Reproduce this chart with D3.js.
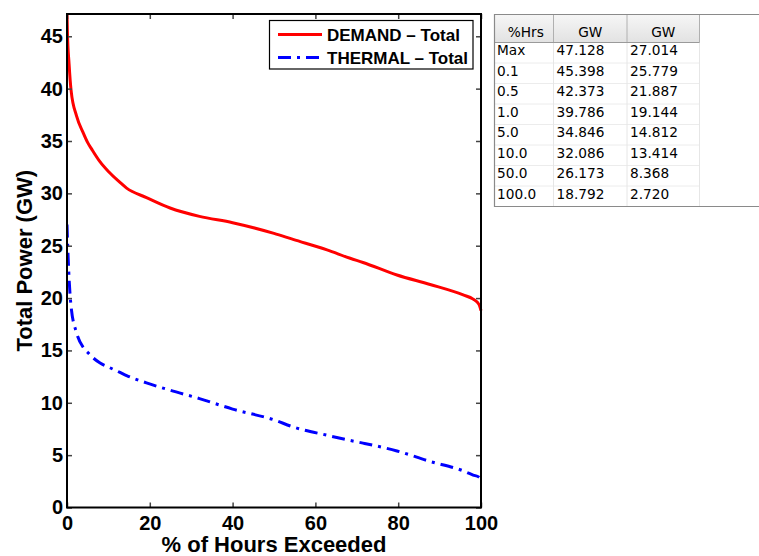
<!DOCTYPE html>
<html>
<head>
<meta charset="utf-8">
<script src="https://cdn.jsdelivr.net/npm/d3@7"></script>
<style>
  html, body { margin: 0; padding: 0; background: #fff; }
  svg { display: block; }
</style>
</head>
<body>
<svg id="chart" width="759" height="556"></svg>
<script>
// Duration curve: share of hours (%) for which a power level is exceeded
const hoursPct = [0, 0.1, 0.5, 1, 2.3, 3.9, 5, 6, 8, 10, 12.8, 14.4, 19.2, 24.9, 32, 40,
                  50, 54.6, 62.8, 68.4, 71.5, 79.7, 87.7, 95.7, 98.1, 99.5, 100];
const demandGW = [47.128, 45.398, 42.373, 39.786, 37.4, 35.8, 34.846, 34.2, 33.0, 32.086,
                  31.05, 30.5, 29.6, 28.6, 27.8, 27.2, 26.173, 25.6, 24.6, 23.8, 23.4,
                  22.2, 21.3, 20.3, 19.9, 19.4, 18.792];
const thermalGW = [27.014, 25.779, 21.887, 19.144, 16.7, 15.3, 14.812, 14.4, 13.8, 13.414,
                   12.9, 12.6, 11.9, 11.2, 10.4, 9.4, 8.368, 7.7, 6.9, 6.4, 6.15,
                   5.4, 4.4, 3.5, 3.1, 2.9, 2.72];

const seriesNames = ["DEMAND \u2013 Total", "THERMAL \u2013 Total"];
const xTicks = [0, 20, 40, 60, 80, 100];
const yTicks = [0, 5, 10, 15, 20, 25, 30, 35, 40, 45];

// Summary table
const tableHeader = ["%Hrs", "GW", "GW"];
const tablePct = ["Max", "0.1", "0.5", "1.0", "5.0", "10.0", "50.0", "100.0"];
const tableDemand = ["47.128", "45.398", "42.373", "39.786", "34.846", "32.086", "26.173", "18.792"];
const tableThermal = ["27.014", "25.779", "21.887", "19.144", "14.812", "13.414", "8.368", "2.720"];

const svg = d3.select("#chart");
const plotLeft = 67, plotRight = 481, plotTop = 14, plotBottom = 507.5;

const x = d3.scaleLinear().domain([0, 100]).range([plotLeft, plotRight]);
const y = d3.scaleLinear().domain([0, 47.128]).range([plotBottom, plotTop]);

const FONT = "'Liberation Sans', Arial, Helvetica, sans-serif";

const defs = svg.append("defs");
defs.append("clipPath").attr("id", "plotClip")
  .append("rect").attr("x", plotLeft).attr("y", plotTop - 2)
  .attr("width", plotRight - plotLeft + 2).attr("height", plotBottom - plotTop + 2);

// Lines
const line = d3.line().x(d => x(d[0])).y(d => y(d[1])).curve(d3.curveMonotoneX);
const plot = svg.append("g").attr("clip-path", "url(#plotClip)");

plot.append("path")
  .datum(hoursPct.map((p, i) => [p, demandGW[i]]))
  .attr("d", line).attr("fill", "none")
  .attr("stroke", "#ff0000").attr("stroke-width", 3)
  .attr("stroke-linejoin", "round");

plot.append("path")
  .datum(hoursPct.map((p, i) => [p, thermalGW[i]]))
  .attr("d", line).attr("fill", "none")
  .attr("stroke", "#0000ff").attr("stroke-width", 3)
  .attr("stroke-dasharray", "13,6,3,6");

// Axes, MATLAB style: ticks pointing inward on all four sides
function styleAxis(g, showLabels) {
  g.select(".domain").remove();
  g.selectAll(".tick line").attr("stroke", "#444").attr("stroke-width", 1.5);
  g.selectAll(".tick text")
    .attr("font-family", FONT).attr("font-weight", "bold")
    .attr("font-size", 20).attr("fill", "#000")
    .style("display", showLabels ? null : "none");
}

svg.append("g").attr("transform", `translate(0,${plotBottom})`)
  .call(d3.axisBottom(x).tickValues(xTicks).tickSize(-5).tickPadding(8).tickFormat(d3.format("d")))
  .call(g => styleAxis(g, true));

svg.append("g").attr("transform", `translate(0,${plotTop})`)
  .call(d3.axisTop(x).tickValues(xTicks).tickSize(-5))
  .call(g => styleAxis(g, false));

svg.append("g").attr("transform", `translate(${plotLeft},0)`)
  .call(d3.axisLeft(y).tickValues(yTicks).tickSize(-5).tickPadding(4).tickFormat(d3.format("d")))
  .call(g => styleAxis(g, true));

svg.append("g").attr("transform", `translate(${plotRight},0)`)
  .call(d3.axisRight(y).tickValues(yTicks).tickSize(-5))
  .call(g => styleAxis(g, false));

// Frame
svg.append("rect")
  .attr("x", plotLeft).attr("y", plotTop)
  .attr("width", plotRight - plotLeft).attr("height", plotBottom - plotTop)
  .attr("fill", "none").attr("stroke", "#000").attr("stroke-width", 2);

// Axis titles
svg.append("text")
  .attr("x", (plotLeft + plotRight) / 2).attr("y", 552)
  .attr("text-anchor", "middle")
  .attr("font-family", FONT).attr("font-weight", "bold").attr("font-size", 22)
  .text("% of Hours Exceeded");

svg.append("text")
  .attr("transform", `translate(32,${(plotTop + plotBottom) / 2}) rotate(-90)`)
  .attr("text-anchor", "middle")
  .attr("font-family", FONT).attr("font-weight", "bold").attr("font-size", 22)
  .text("Total Power (GW)");

// Legend
const legend = svg.append("g");
legend.append("rect")
  .attr("x", 269.5).attr("y", 20.5).attr("width", 203.5).attr("height", 48.5)
  .attr("fill", "#fff").attr("stroke", "#000").attr("stroke-width", 1.2);

const legendRows = [
  { name: seriesNames[0], color: "#ff0000", dash: null, y: 34.5 },
  { name: seriesNames[1], color: "#0000ff", dash: "13,6,3,6", y: 57.5 }
];
legendRows.forEach(r => {
  legend.append("line")
    .attr("x1", 278).attr("x2", 322).attr("y1", r.y).attr("y2", r.y)
    .attr("stroke", r.color).attr("stroke-width", 3)
    .attr("stroke-dasharray", r.dash);
  legend.append("text")
    .attr("x", 327).attr("y", r.y + 6)
    .attr("font-family", FONT).attr("font-weight", "bold").attr("font-size", 17)
    .text(r.name);
});

// Summary table
const TFONT = "'DejaVu Sans', Verdana, sans-serif";
const tbl = svg.append("g");
const tx0 = 494, ty0 = 14.5, headH = 28, rowH = 20.5;
const colX = [494, 553.5, 627, 699.5];

tbl.append("rect").attr("x", tx0).attr("y", ty0).attr("width", 270).attr("height", 192)
  .attr("fill", "#fff");

const grad = defs.append("linearGradient")
  .attr("id", "headGrad").attr("x1", 0).attr("x2", 0).attr("y1", 0).attr("y2", 1);
grad.append("stop").attr("offset", "0%").attr("stop-color", "#f6f6f6");
grad.append("stop").attr("offset", "100%").attr("stop-color", "#e2e2e2");

tbl.append("rect").attr("x", colX[0]).attr("y", ty0)
  .attr("width", colX[3] - colX[0]).attr("height", headH)
  .attr("fill", "url(#headGrad)");

// row grid lines
tablePct.forEach((_, i) => {
  const yy = ty0 + headH + rowH * (i + 1);
  tbl.append("line").attr("x1", colX[0]).attr("x2", colX[3])
    .attr("y1", yy).attr("y2", yy).attr("stroke", "#ececec").attr("stroke-width", 1);
});
// column lines
[1, 2, 3].forEach(c => {
  tbl.append("line").attr("x1", colX[c]).attr("x2", colX[c])
    .attr("y1", ty0 + headH).attr("y2", ty0 + headH + rowH * 8)
    .attr("stroke", "#e6e6e6");
  tbl.append("line").attr("x1", colX[c]).attr("x2", colX[c])
    .attr("y1", ty0).attr("y2", ty0 + headH)
    .attr("stroke", "#b0b0b0");
});
tbl.append("line").attr("x1", colX[0]).attr("x2", colX[3])
  .attr("y1", ty0 + headH).attr("y2", ty0 + headH).attr("stroke", "#9a9a9a");

// outer border
tbl.append("path")
  .attr("d", `M760,${ty0}H${tx0 + 0.5}V${ty0 + headH + rowH * 8}H760`)
  .attr("fill", "none").attr("stroke", "#8a8a8a").attr("stroke-width", 1.2);

tableHeader.forEach((h, c) => {
  tbl.append("text")
    .attr("x", (colX[c] + colX[c + 1]) / 2 + (c === 0 ? 2 : 0)).attr("y", ty0 + 22)
    .attr("text-anchor", "middle")
    .attr("font-family", TFONT).attr("font-size", 13.7).attr("fill", "#000")
    .text(h);
});

const tableCols = [tablePct, tableDemand, tableThermal];
tableCols.forEach((col, c) => {
  col.forEach((v, i) => {
    tbl.append("text")
      .attr("x", colX[c] + 3).attr("y", ty0 + headH + rowH * i + 12.5)
      .attr("font-family", TFONT).attr("font-size", 13.7).attr("fill", "#000")
      .text(v);
  });
});
</script>
</body>
</html>
